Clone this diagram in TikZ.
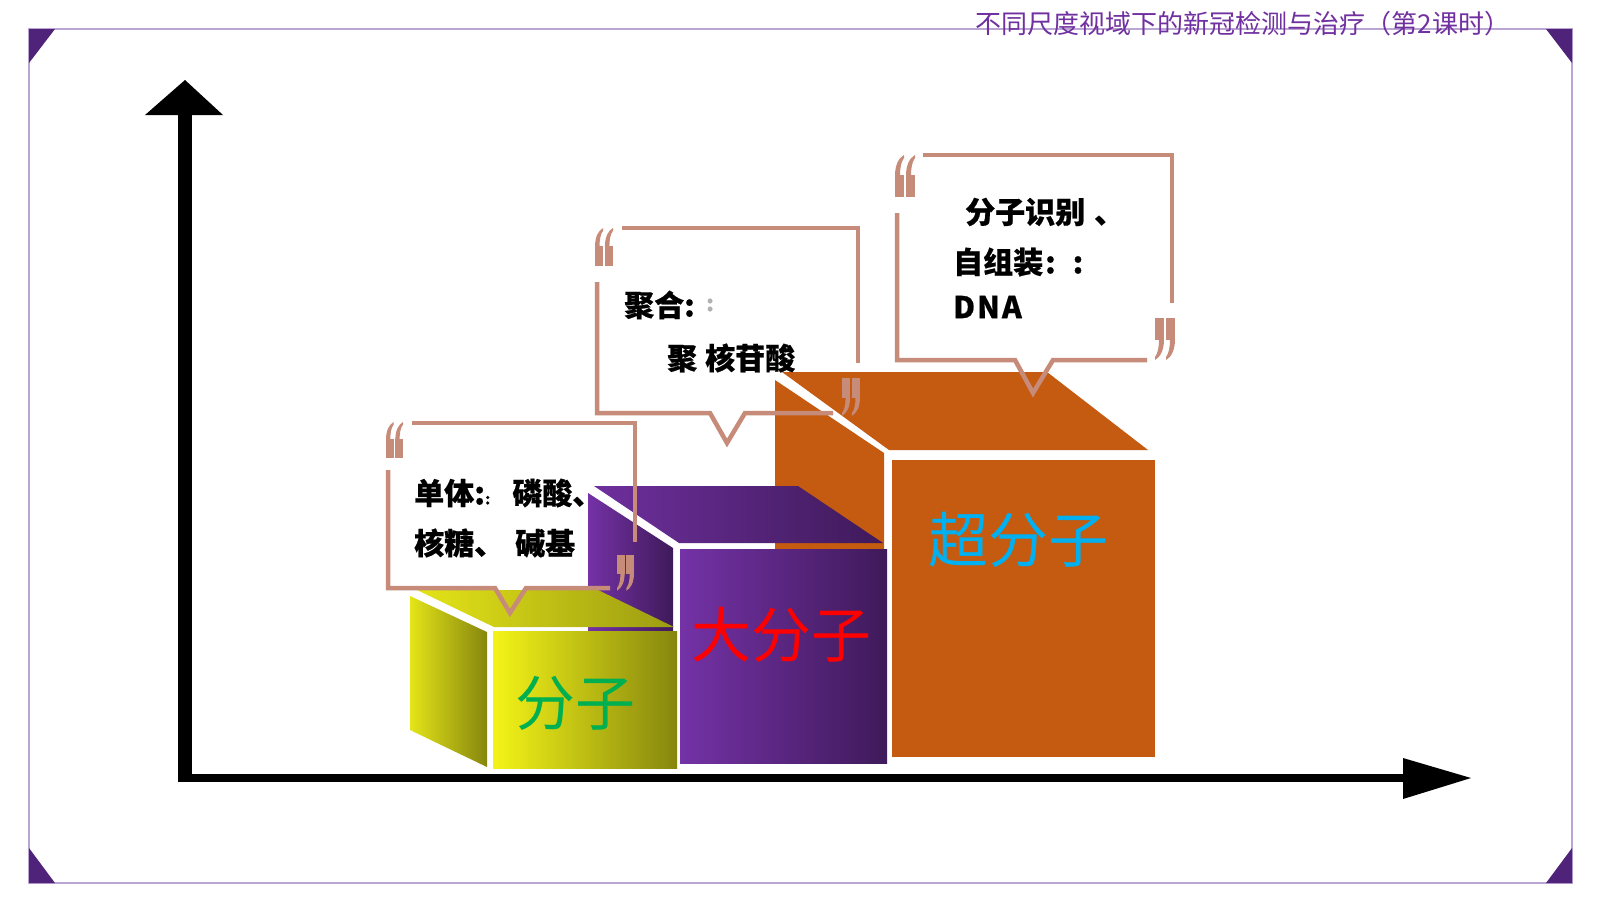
\documentclass[tikz,border=0pt]{standalone}
\usepackage{fontspec}
\setmainfont{Noto Sans CJK SC}[BoldFeatures={FakeBold=0.6}]
\definecolor{qcol}{HTML}{C68B79}
\definecolor{framecol}{HTML}{BBA5D2}
\definecolor{cornercol}{HTML}{4F2379}
\definecolor{titlecol}{HTML}{7030A0}
\definecolor{orng}{HTML}{C55A11}
\definecolor{ylA}{HTML}{F4F418}
\definecolor{ylB}{HTML}{86860F}
\definecolor{ylT}{HTML}{E4E418}
\definecolor{ylTB}{HTML}{9C9C12}
\definecolor{puA}{HTML}{7432A6}
\definecolor{puB}{HTML}{3F1A5A}
\definecolor{lgreen}{HTML}{00B050}
\definecolor{lred}{HTML}{FF0000}
\definecolor{lcyan}{HTML}{00B0F0}
\begin{document}
\begin{tikzpicture}[x=1pt,y=-1pt,
  border/.style={draw=qcol,line width=4.5pt,line join=miter},
  ctext/.style={anchor=west,inner sep=0pt,font=\fontsize{30}{34}\selectfont\bfseries},
  cubelabel/.style={inner sep=0pt,font=\fontsize{60}{64}\selectfont},
  oquote/.pic={
    \fill[qcol] (0,20) rectangle (9,42);
    \fill[qcol] (0,21) .. controls (0,9) and (4,3) .. (9,0) -- (9,3) .. controls (6,7) and (5,13) .. (5,21) -- cycle;
    \fill[qcol] (11,20) rectangle (20,42);
    \fill[qcol] (11,21) .. controls (11,9) and (15,3) .. (20,0) -- (20,3) .. controls (17,7) and (16,13) .. (16,21) -- cycle;
  },
  cquote/.pic={
    \fill[qcol] (0,0) rectangle (9,22);
    \fill[qcol] (9,21) .. controls (9,33) and (5,39) .. (0,42) -- (0,39) .. controls (3,35) and (4,29) .. (4,21) -- cycle;
    \fill[qcol] (11,0) rectangle (20,22);
    \fill[qcol] (20,21) .. controls (20,33) and (16,39) .. (11,42) -- (11,39) .. controls (14,35) and (15,29) .. (15,21) -- cycle;
  }
]
\useasboundingbox (0,0) rectangle (1600,900);
\fill[white] (0,0) rectangle (1600,900);
% frame
\draw[framecol,line width=2pt] (29,29) rectangle (1572,883);
\fill[cornercol] (29,29) -- (55,29) -- (29,63) -- cycle;
\fill[cornercol] (1572,29) -- (1546,29) -- (1572,63) -- cycle;
\fill[cornercol] (29,883) -- (55,883) -- (29,848) -- cycle;
\fill[cornercol] (1572,883) -- (1546,883) -- (1572,848) -- cycle;
\node[inner sep=0pt,text=titlecol,font=\fontsize{26}{28}\selectfont] (title) at (1243,24) {不同尺度视域下的新冠检测与治疗（第2课时）};
% axes
\coordinate (O) at (185,778);
\coordinate (ytip) at (185,80);
\coordinate (xtip) at (1471,778);
\fill[black] (178,115) rectangle (192,782);
\fill[black] (178,774) rectangle (1405,782);
\fill[black] (ytip) -- (145,115) -- (223,115) -- cycle;
\fill[black] (xtip) -- (1403,758) -- (1403,799) -- cycle;
% orange cube
\fill[orng] (775,380) -- (884,453) -- (884,757) -- (775,757) -- cycle;
\fill[orng] (782,372) -- (1047,372) -- (1148,450) -- (889,450) -- cycle;
\fill[orng] (892,460) rectangle (1155,757);
% purple cube
\shade[left color=puA,right color=puB] (588,493) -- (673,548) -- (673,763) -- (588,740) -- cycle;
\shade[left color=puA!95!black,right color=puB] (594,486) -- (798,486) -- (883,543) -- (679,543) -- cycle;
\shade[left color=puA,right color=puB] (680,549) rectangle (887,763);
% yellow cube
\shade[left color=ylT,right color=ylB] (410,596) -- (487,632) -- (487,767) -- (410,730) -- cycle;
\shade[left color=ylT,right color=ylTB] (417,590) -- (598,590) -- (674,627) -- (494,627) -- cycle;
\shade[left color=ylA,right color=ylB] (493,631) rectangle (677,768);
% cube labels
\node[cubelabel,text=lgreen] (lab1) at (575,703) {分子};
\node[cubelabel,text=lred] (lab2) at (781,635) {大分子};
\node[cubelabel,text=lcyan] (lab3) at (1018,540) {超分子};
% callout 1
\draw[border] (412,423) -- (635,423) -- (635,542);
\draw[border] (388,470) -- (388,588) -- (495,588) -- (510,613) -- (526,588) -- (610,588);
\pic[scale=0.85] at (386,422) {oquote};
\pic[scale=0.85] at (617,555) {cquote};
\node[ctext] (t1a) at (414,493) {单体{\fontsize{31}{32}\selectfont:}{\fontsize{15}{16}\selectfont :}\hspace{22pt}磷酸、};
\node[ctext] (t1b) at (414,543) {核糖、\hspace{11pt}碱基};
% callout 2
\draw[border] (622,228) -- (858,228) -- (858,363);
\draw[border] (597,282) -- (597,413) -- (710,413) -- (727,443) -- (745,413) -- (833,413);
\pic[scale=0.9] at (595,228) {oquote};
\pic[scale=0.9] at (842,378) {cquote};
\node[ctext] (t2a) at (624,305) {聚合:};
\node[anchor=west,inner sep=0pt,text=black!30,font=\fontsize{22}{24}\selectfont\bfseries] (t2g) at (706,305) {:};
\node[ctext] (t2b) at (667,358) {聚\hspace{8pt}核苷酸};
% callout 3
\draw[border] (923,155) -- (1172,155) -- (1172,303);
\draw[border] (897,213) -- (897,360) -- (1015,360) -- (1033,393) -- (1053,360) -- (1147,360);
\pic at (895,155) {oquote};
\pic at (1155,318) {cquote};
\node[ctext] (t3a) at (965,212) {分子识别\hspace{9pt}、};
\node[ctext] (t3b) at (953,262) {自组装\hspace{2pt}:\hspace{17pt}:};
\node[ctext] (t3c) at (953,307) {D\hspace{2pt}N\hspace{2pt}A};
\end{tikzpicture}
\end{document}
